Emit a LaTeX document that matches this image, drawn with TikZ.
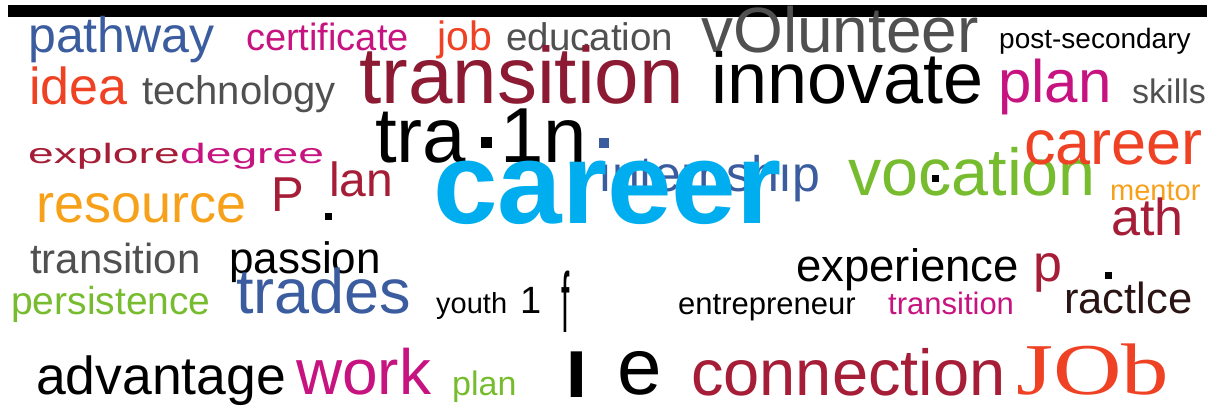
\documentclass[tikz,border=0pt]{standalone}
\usepackage{fontspec}
\usepackage{graphicx}
\setmainfont{Liberation Sans}
\newfontfamily\serifword{Liberation Serif}
\definecolor{cloud blue}{HTML}{3B5C9E}
\definecolor{cloud magenta}{HTML}{C7137F}
\definecolor{cloud orange red}{HTML}{EF4123}
\definecolor{cloud gray}{HTML}{505050}
\definecolor{cloud wine}{HTML}{8B1A32}
\definecolor{cloud red}{HTML}{A51D36}
\definecolor{cloud orange}{HTML}{F7A11A}
\definecolor{cloud green}{HTML}{76BC2E}
\definecolor{cloud cyan}{HTML}{00AEEF}
\definecolor{cloud brown}{HTML}{2A1414}
\newcommand\wsize[1]{\fontsize{#1}{#1}\selectfont}
\tikzset{word/.style={inner sep=0pt, anchor=base west}}

\begin{document}
\begin{tikzpicture}[x=1pt, y=-1pt]
		\useasboundingbox (0,0) rectangle (1217,408);
		% top bar
		\fill (8,5) rectangle (1207,17);
		% first row
		\node[word, text=cloud blue, font=\wsize{50}] (pathway) at (28,52) {pathway};
		\node[word, text=cloud magenta, font=\wsize{38}] (certificate) at (246,50) {certificate};
		\node[word, text=cloud orange red, font=\wsize{41}] (job) at (437,50) {job};
		\node[word, text=cloud gray, font=\wsize{38.5}] (education) at (506,50) {education};
		\node[word, text=cloud gray, font=\wsize{64}] (volunteer) at (701,52) {vOlunteer};
		\node[word, font=\wsize{28}] (postsecondary) at (999,48) {post-secondary};
		% second row
		\node[word, text=cloud orange red, font=\wsize{52}] (idea) at (29,104) {idea};
		\node[word, text=cloud gray, font=\wsize{40}] (technology) at (142,104) {technology};
		\node[word, text=cloud wine, font=\wsize{80}] (transition) at (359,103) {transition};
		\node[word, font=\wsize{72}] (innovate) at (711,103) {innovate};
		\node[word, text=cloud magenta, font=\wsize{60}] (plan) at (998,102) {plan};
		\node[word, text=cloud gray, font=\wsize{34}] (skills) at (1132,103) {skills};
		% middle
		\node[word, text=cloud red, font=\wsize{28}] (explore) at (28,163) {\scalebox{1.65}[1]{explore}};
		\node[word, text=cloud magenta, font=\wsize{28}] (degree) at (explore.base east) {\scalebox{1.65}[1]{degree}};
		\node[word, text=cloud red, font=\wsize{49}] (bigP) at (271,211) {P};
		\node[word, text=cloud red, font=\wsize{48}] (lan) at (329,196) {lan};
		\fill (325,213) rectangle (332,220);
		\node[word, font=\wsize{78}] (tra) at (375,162) {tra};
		\fill (481,137) rectangle (492,148);
		\node[word, font=\wsize{78}] (onen) at (500,162) {1n};
		\node[word, text=cloud orange, font=\wsize{54}] (resource) at (36,222) {resource};
		\fill[cloud blue] (599,138) rectangle (609,148);
		\node[word, text=cloud blue, font=\wsize{50}] (internship) at (598,191) {ınternshıp};
		\node[word, text=cloud cyan, font=\wsize{116}\bfseries] (career) at (433,223) {career};
		\node[word, text=cloud green, font=\wsize{66.5}] (vocation) at (848,195) {vocation};
		\fill (932,175) rectangle (939,182);
		\node[word, text=cloud orange red, font=\wsize{63}] (career2) at (1024,164) {career};
		\node[word, text=cloud orange, font=\wsize{29}] (mentor) at (1110,200) {mentor};
		\node[word, text=cloud red, font=\wsize{52}] (ath) at (1111,235) {ath};
		% lower rows
		\node[word, text=cloud gray, font=\wsize{42}] (transition2) at (30,273) {transition};
		\node[word, font=\wsize{44}] (passion) at (229,273) {passion};
		\node[word, font=\wsize{45.5}] (experience) at (796,281) {experience};
		\node[word, text=cloud red, font=\wsize{52}] (smallp) at (1033,281) {p};
		\fill (1105,272) rectangle (1112,279);
		\node[word, text=cloud green, font=\wsize{39}] (persistence) at (11,314) {persistence};
		\node[word, text=cloud blue, font=\wsize{63}] (trades) at (236,313) {trades};
		\node[word, font=\wsize{29}] (youth) at (436,313) {youth};
		\node[word, font=\wsize{38}] (one) at (520,313) {1};
		\node[word, font=\wsize{85}] (tallf) at (561,332) {\scalebox{0.35}[1]{f}};
		\node[word, font=\wsize{31}] (entrepreneur) at (678,314) {entrepreneur};
		\node[word, text=cloud magenta, font=\wsize{31}] (transition3) at (888,314) {transition};
		\node[word, text=cloud brown, font=\wsize{43.5}] (ractlce) at (1064,313) {ractlce};
		% bottom row
		\node[word, font=\wsize{53.5}] (advantage) at (36,394) {advantage};
		\node[word, text=cloud magenta, font=\wsize{64}] (work) at (296,394) {work};
		\node[word, text=cloud green, font=\wsize{34}] (plan2) at (452,395) {plan};
		\node[word, font=\wsize{63}\bfseries] (thickl) at (565,397) {\scalebox{1.3}[1]{l}};
		\node[word, font=\wsize{80}] (lonee) at (617,394) {e};
		\node[word, text=cloud red, font=\wsize{65}] (connection) at (691,395) {connection};
		\node[word, text=cloud orange red, font=\serifword\wsize{73}] (JOb) at (1016,394) {\scalebox{1.3}[1]{JOb}};
	\end{tikzpicture}
\end{document}
